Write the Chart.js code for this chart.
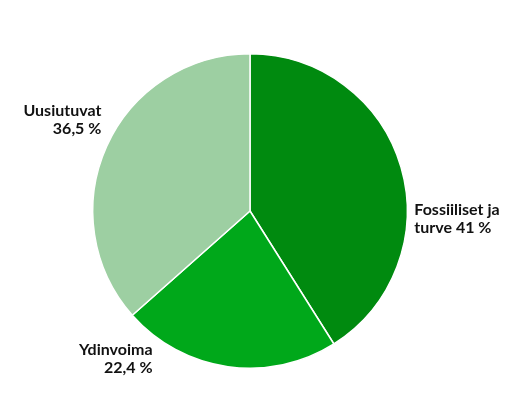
<!DOCTYPE html>
<html>
<head>
<meta charset="utf-8">
<script src="https://cdn.jsdelivr.net/npm/chart.js@4/dist/chart.umd.min.js"></script>
<style>
  html, body { margin: 0; padding: 0; background: #fff; }
  #wrap { width: 520px; height: 420px; position: relative; }
</style>
</head>
<body>
<div id="wrap"><canvas id="pie"></canvas></div>
<script>
const labels = [['Fossiiliset ja', 'turve 41 %'], ['Ydinvoima', '22,4 %'], ['Uusiutuvat', '36,5 %']];
const values = [41, 22.4, 36.5];
const colors = ['#008a0f', '#00a81a', '#9dcfa2'];

// where each label sits, relative to the pie centre in units of radius
const labelLayout = [
  { dx: 1.045, dy: 0.05, align: 'left' },
  { dx: -0.62, dy: 0.94, align: 'right' },
  { dx: -0.945, dy: -0.58, align: 'right' }
];

const outsideLabels = {
  id: 'outsideLabels',
  afterDatasetsDraw(chart) {
    const ctx = chart.ctx;
    const arcs = chart.getDatasetMeta(0).data;
    ctx.save();
    ctx.font = 'bold 16px Lato';
    ctx.fillStyle = '#111';
    ctx.textBaseline = 'middle';
    arcs.forEach((arc, i) => {
      const r = arc.outerRadius;
      const l = labelLayout[i];
      const x = arc.x + l.dx * r;
      const y = arc.y + l.dy * r;
      ctx.textAlign = l.align;
      labels[i].forEach((line, j) => ctx.fillText(line, x, y + (j - 0.5) * 18));
    });
    ctx.restore();
  }
};

new Chart(document.getElementById('pie'), {
  type: 'pie',
  data: {
    labels: labels.map(l => l.join(' ')),
    datasets: [{
      data: values,
      backgroundColor: colors,
      borderColor: '#fff',
      borderWidth: 1.5
    }]
  },
  options: {
    responsive: true,
    maintainAspectRatio: false,
    animation: false,
    layout: { padding: { left: 92, right: 112, top: 53, bottom: 51 } },
    plugins: { legend: { display: false }, tooltip: { enabled: false } }
  },
  plugins: [outsideLabels]
});
</script>
</body>
</html>
